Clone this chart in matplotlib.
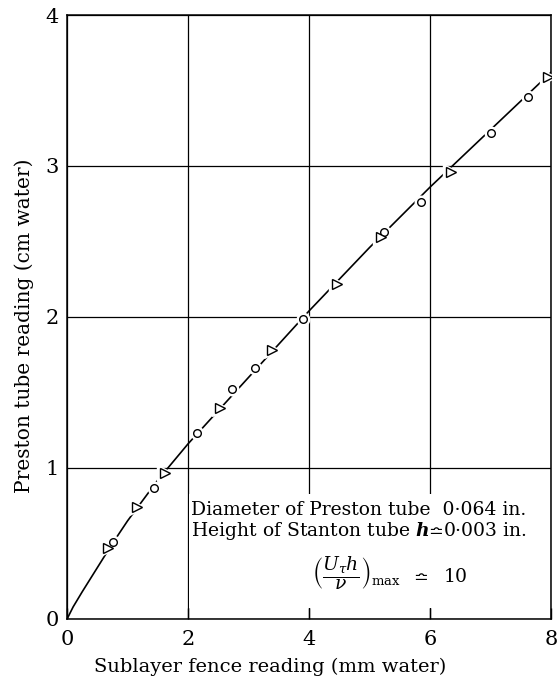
import matplotlib
matplotlib.use('Agg')
import matplotlib.pyplot as plt
from matplotlib.patches import Rectangle

plt.rcParams['font.family'] = ['DejaVu Serif', 'DejaVu Sans']
plt.rcParams['mathtext.fontset'] = 'dejavuserif'

# circles: sublayer fence reading (mm water) vs Preston tube reading (cm water)
circle_x = [0.76, 1.43, 2.15, 2.72, 3.11, 3.90, 5.24, 5.85, 7.01, 7.62]
circle_y = [0.51, 0.87, 1.23, 1.52, 1.66, 1.99, 2.56, 2.76, 3.22, 3.46]
# triangles
tri_x = [0.68, 1.15, 1.62, 2.53, 3.38, 4.46, 5.19, 6.35, 7.95]
tri_y = [0.47, 0.74, 0.97, 1.40, 1.78, 2.22, 2.53, 2.96, 3.59]
# calibration curve
curve_x = [0, 0.1, 0.25, 0.5, 0.75, 1.0, 1.5, 2.0, 3.0, 4.0, 5.0, 6.0, 7.0, 8.0]
curve_y = [0, 0.08, 0.18, 0.34, 0.50, 0.65, 0.92, 1.16, 1.60, 2.04, 2.46, 2.86, 3.24, 3.62]

x_ticks = [0, 2, 4, 6, 8]
y_ticks = [0, 1, 2, 3, 4]

fig = plt.figure(figsize=(5.59, 6.82), dpi=100)
ax = fig.add_axes([0.12, 0.0924, 0.8657, 0.8856])

ax.set_xlim(0, 8)
ax.set_ylim(0, 4)
ax.set_xticks(x_ticks)
ax.set_yticks(y_ticks)
ax.tick_params(axis='x', direction='in', length=8, width=1, pad=8, labelsize=15)
ax.tick_params(axis='y', length=0, pad=6, labelsize=15)
ax.grid(color='black', linewidth=0.9)
ax.set_axisbelow(True)
for s in ax.spines.values():
    s.set_linewidth(1.1)

# white panel behind the annotation (breaks the grid lines)
ax.add_patch(Rectangle((2.02, 0.07), 5.96, 0.76, facecolor='white', edgecolor='none', zorder=1.5))

ax.plot(curve_x, curve_y, color='black', linewidth=1.2, zorder=3)
# gaps in the line around markers
ax.plot(circle_x, circle_y, 'o', ms=9, color='white', zorder=3.5)
ax.plot(tri_x, tri_y, '>', ms=11, color='white', zorder=3.5)
ax.plot(circle_x, circle_y, 'o', ms=5.5, mfc='white', mec='black', mew=1.0, zorder=4)
ax.plot(tri_x, tri_y, '>', ms=7, mfc='white', mec='black', mew=1.0, zorder=4)

ax.set_xlabel('Sublayer fence reading (mm water)', fontsize=14)
ax.xaxis.set_label_coords(0.42, -0.065)
ax.set_ylabel('Preston tube reading (cm water)', fontsize=14.5, labelpad=8)
ax.yaxis.label.set_y(0.485)

ax.text(2.05, 0.69, 'Diameter of Preston tube  0\u00b7064 in.', fontsize=13.5, va='baseline', zorder=5)
ax.text(2.05, 0.55, 'Height of Stanton tube $\\mathbfit{h}\\!\\bumpeq\\!$0\u00b7003 in.', fontsize=13.5, va='baseline', zorder=5)
ax.text(4.05, 0.30, '$\\left(\\dfrac{U_\\tau h}{\\nu}\\right)_{\\mathrm{max}}\\ \\ \\bumpeq$  10', fontsize=13.5, va='center', zorder=5)

fig.savefig('out.png', dpi=100)
